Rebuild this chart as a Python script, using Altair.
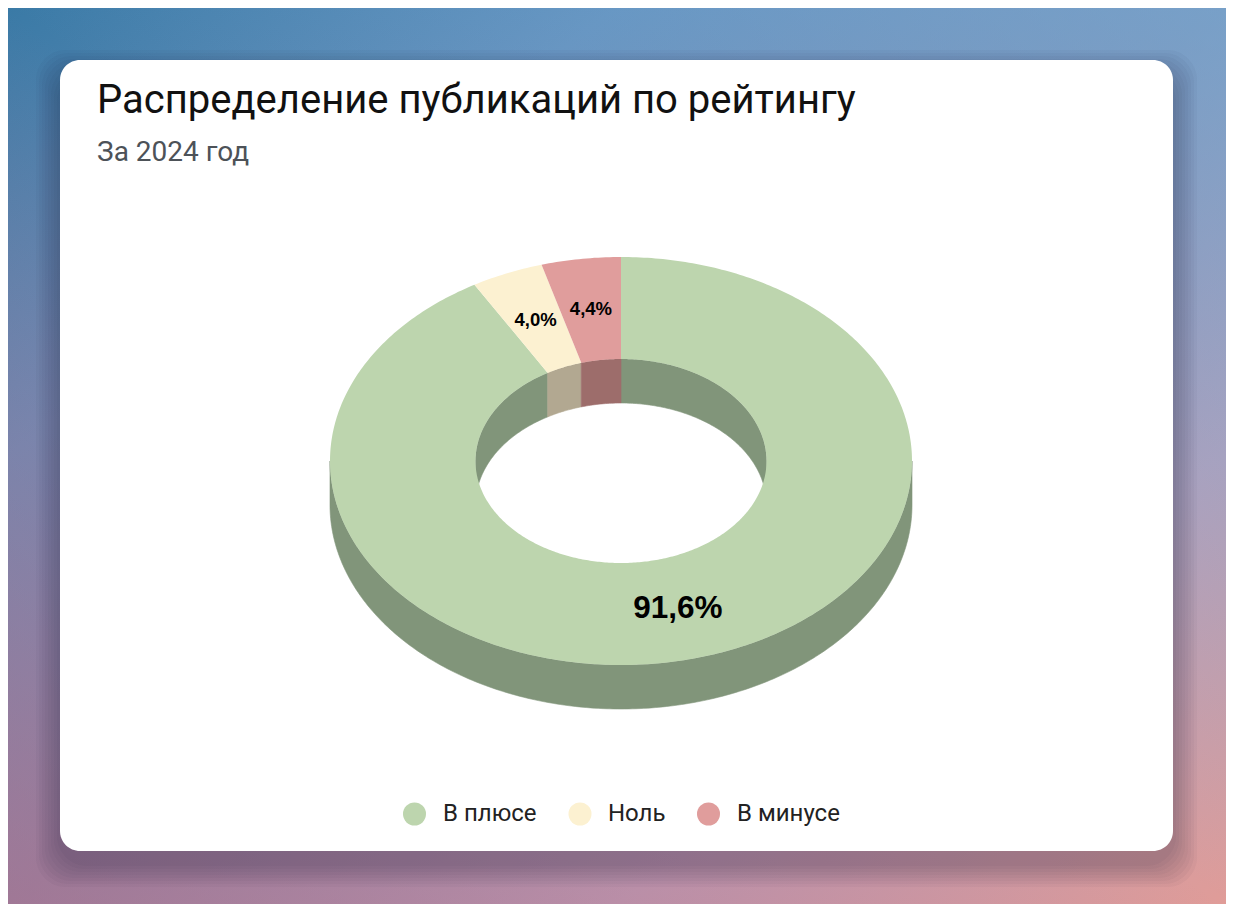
import math
import altair as alt
import pandas as pd

# ---------------- data ----------------
names = ["В плюсе", "Ноль", "В минусе"]
values = [91.6, 4.0, 4.4]
value_labels = ["91,6%", "4,0%", "4,4%"]
label_sizes = [31.5, 18.5, 18.5]
top_colors = ["#bdd5ae", "#fcf1d1", "#e09d9c"]
side_colors = ["#81957a", "#b2a891", "#9d6d6b"]

title_text = "Распределение публикаций по рейтингу"
subtitle_text = "За 2024 год"

# ---------------- layout ----------------
W, H = 1218, 896
CX, CY = 613, 453
RX, RY = 291, 204
INNER = 0.5
DEPTH = 44
LABEL_F = 0.75
LEGEND_SYMBOL_X = [406.5, 572, 700.5]
LEGEND_TEXT_X = [435, 600, 729]
LEGEND_Y = 806


def pt(theta, f, dy=0.0):
    t = math.radians(theta)
    return [CX + f * RX * math.sin(t), CY - f * RY * math.cos(t) + dy]


def arc(a0, a1, f, dy=0.0):
    n = max(2, int(abs(a1 - a0) / 0.75) + 1)
    return [pt(a0 + (a1 - a0) * i / (n - 1), f, dy) for i in range(n)]


def poly(ring, key, name):
    ring = ring + [ring[0]]
    return {"type": "Feature", "properties": {key: name},
            "geometry": {"type": "Polygon", "coordinates": [ring]}}


total = sum(values)
top_feats, wall_feats, lab_rows = [], [], []
start = 0.0
for name, v, lab, sz in zip(names, values, value_labels, label_sizes):
    a0 = start
    a1 = start + 360.0 * v / total
    start = a1
    top_feats.append(poly(arc(a0, a1, 1.0) + arc(a1, a0, INNER), "name", name))
    s, e = max(a0, 90.0), min(a1, 270.0)
    if e > s:
        wall_feats.append(poly(arc(s, e, 1.0) + arc(e, s, 1.0, DEPTH), "part", name))
    for lo, hi in [(0.0, 90.0), (270.0, 360.0)]:
        s, e = max(a0, lo), min(a1, hi)
        if e > s:
            wall_feats.append(poly(arc(s, e, INNER) + arc(e, s, INNER, DEPTH), "part", name))
    mid = (a0 + a1) / 2
    lx, ly = pt(mid, LABEL_F)
    lab_rows.append({"lx": lx, "ly": ly, "label": lab, "size": sz})

labels_df = pd.DataFrame(lab_rows)
legend_df = pd.DataFrame({"name": names, "sx": LEGEND_SYMBOL_X, "tx": LEGEND_TEXT_X,
                          "ly": [LEGEND_Y] * len(names)})
one = pd.DataFrame({"a": [0]})

proj = dict(type="identity", scale=1, translate=[0, 0])

# ---------------- background ----------------
bg = alt.Chart(one).mark_rect(
    fill={"gradient": "linear", "x1": 0, "y1": 0, "x2": 1, "y2": 1,
          "stops": [{"offset": 0, "color": "#3a7aa6"},
                    {"offset": 0.25, "color": "#698eba"},
                    {"offset": 0.5, "color": "#8c8caf"},
                    {"offset": 0.75, "color": "#bc9cb5"},
                    {"offset": 1, "color": "#e09c98"}]}
).encode(x=alt.value(0), x2=alt.value(W), y=alt.value(0), y2=alt.value(H))

bg2 = alt.Chart(one).mark_rect(
    fill={"gradient": "linear", "x1": 1, "y1": 0, "x2": 0, "y2": 1,
          "stops": [{"offset": 0, "color": "rgba(100,180,225,0.5)"},
                    {"offset": 0.5, "color": "rgba(100,180,225,0)"},
                    {"offset": 0.5, "color": "rgba(180,100,125,0)"},
                    {"offset": 1, "color": "rgba(180,100,125,0.5)"}]}
).encode(x=alt.value(0), x2=alt.value(W), y=alt.value(0), y2=alt.value(H))

CARD = (52, 1165, 52, 843)
shadow_rows = []
for k in range(1, 9):
    g = 3 * k
    shadow_rows.append({"x": CARD[0] - g, "x2": CARD[1] + g,
                        "y": CARD[2] - g + 14, "y2": CARD[3] + g + 12})
shadow_df = pd.DataFrame(shadow_rows)
shadow = alt.Chart(shadow_df).mark_rect(color="#2a1a30", opacity=0.035, cornerRadius=30).encode(
    x=alt.X("x:Q", scale=None), x2="x2:Q",
    y=alt.Y("y:Q", scale=None), y2="y2:Q")

card = alt.Chart(one).mark_rect(color="#ffffff", cornerRadius=20).encode(
    x=alt.value(CARD[0]), x2=alt.value(CARD[1]), y=alt.value(CARD[2]), y2=alt.value(CARD[3]))

# ---------------- donut ----------------
walls = alt.Chart(alt.Data(values=wall_feats)).mark_geoshape(strokeWidth=0.6).encode(
    fill=alt.Fill("properties.part:N", scale=alt.Scale(domain=names, range=side_colors), legend=None),
    stroke=alt.Stroke("properties.part:N", scale=alt.Scale(domain=names, range=side_colors), legend=None),
).project(**proj)

color_scale = alt.Scale(domain=names, range=top_colors)

tops = alt.Chart(alt.Data(values=top_feats)).mark_geoshape(strokeWidth=0).encode(
    color=alt.Color("properties.name:N", scale=color_scale, legend=None),
).project(**proj)

labels = alt.Chart(labels_df).mark_text(font="Liberation Sans", fontWeight="bold",
                                        color="#000000", align="center", baseline="middle").encode(
    x=alt.X("lx:Q", scale=None), y=alt.Y("ly:Q", scale=None),
    text="label:N", size=alt.Size("size:Q", scale=None, legend=None))

# ---------------- legend ----------------
legend_symbols = alt.Chart(legend_df).mark_point(filled=True, shape="circle", size=529, opacity=1,
                                                 strokeWidth=0).encode(
    x=alt.X("sx:Q", scale=None), y=alt.Y("ly:Q", scale=None),
    color=alt.Color("name:N", scale=color_scale, legend=None))

legend_labels = alt.Chart(legend_df).mark_text(font="Roboto", fontSize=24, color="#222222",
                                               align="left", baseline="middle").encode(
    x=alt.X("tx:Q", scale=None), y=alt.Y("ly:Q", scale=None), text="name:N")

title = alt.Chart(one).mark_text(text=title_text, font="Roboto", fontSize=40, color="#111111",
                                 align="left", baseline="alphabetic").encode(
    x=alt.value(89), y=alt.value(105))
subtitle = alt.Chart(one).mark_text(text=subtitle_text, font="Roboto", fontSize=28, color="#4d5258",
                                    align="left", baseline="alphabetic").encode(
    x=alt.value(89), y=alt.value(153))

chart = alt.layer(bg, bg2, shadow, card, walls, tops, labels, legend_symbols, legend_labels,
                  title, subtitle).properties(
    width=W, height=H, padding=0, autosize="none"
).configure_view(strokeWidth=0)

chart.save("out.html", embed_options={"renderer": "svg", "actions": False})
